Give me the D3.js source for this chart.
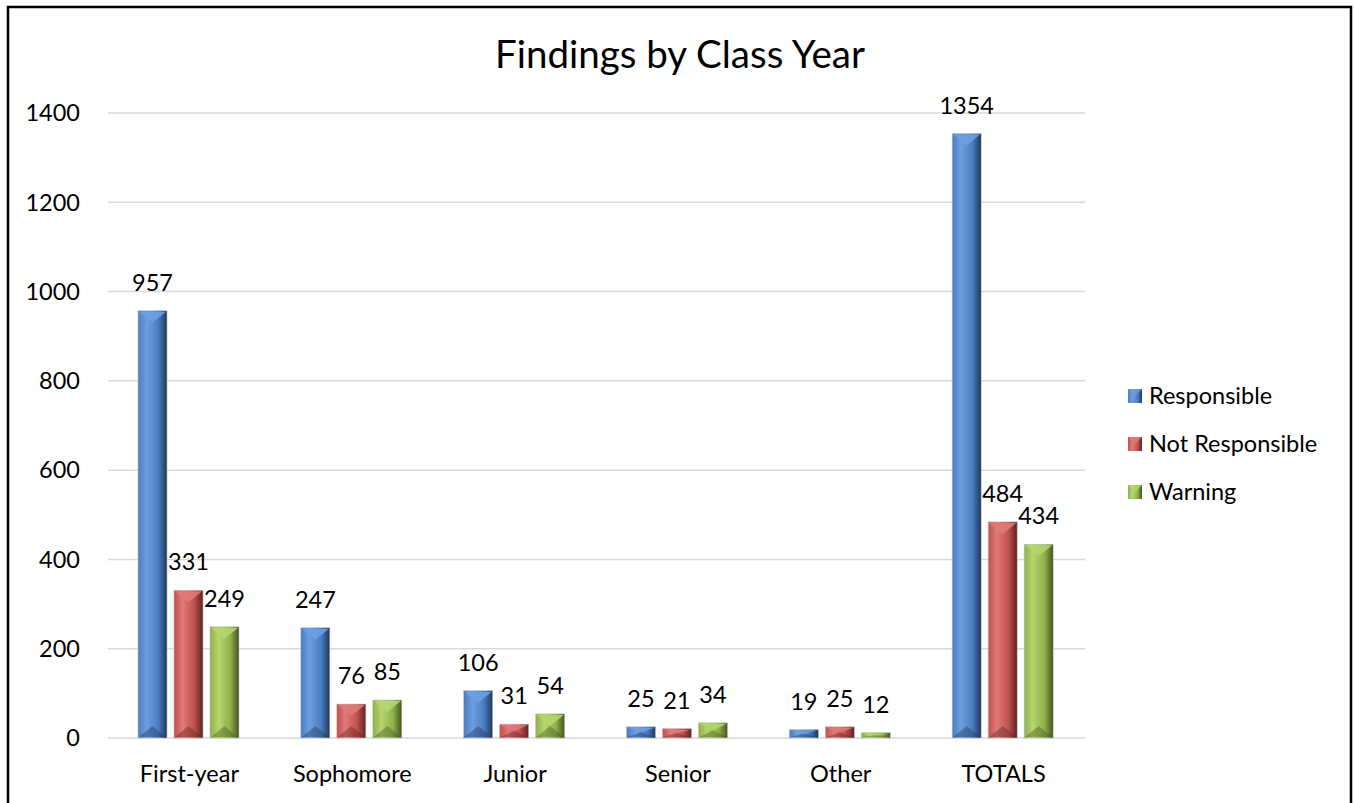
<!DOCTYPE html>
<html>
<head>
<meta charset="utf-8">
<script src="https://cdn.jsdelivr.net/npm/d3@7"></script>
<style>
  body { margin: 0; background: #fff; }
  svg text { font-family: Lato, "Open Sans", sans-serif; fill: #000; }
</style>
</head>
<body>
<svg id="chart"></svg>
<script>
const width = 1354;
const height = 803;

// Data
const categories = ["First-year", "Sophomore", "Junior", "Senior", "Other", "TOTALS"];
const seriesNames = ["Responsible", "Not Responsible", "Warning"];
const responsible = [957, 247, 106, 25, 19, 1354];
const notResponsible = [331, 76, 31, 21, 25, 484];
const warning = [249, 85, 54, 34, 12, 434];
const yTicks = [0, 200, 400, 600, 800, 1000, 1200, 1400];

const seriesValues = [responsible, notResponsible, warning];
const labelSize = 23.5;

// colours: [light, mid, dark]
const palette = [
    ["#6d9ee0", "#4a7dc0", "#1d375a"],
    ["#e07a78", "#c0504d", "#5e2220"],
    ["#b5d56e", "#8fb04a", "#43561d"]
];

const svg = d3.select("#chart")
    .attr("width", width)
    .attr("height", height);

// frame
svg.append("path")
    .attr("d", "M8,803 L8,7 L1351,7 L1351,803")
    .attr("fill", "none")
    .attr("stroke", "#000")
    .attr("stroke-width", 2.5);

const x = d3.scaleBand()
    .domain(categories)
    .range([108, 1085]);

const xInner = d3.scaleBand()
    .domain(seriesNames)
    .range([30, 131])
    .paddingInner(0.194);

const y = d3.scaleLinear()
    .domain([0, 1400])
    .range([738, 113]);

// gradients for the bevelled bars
const defs = svg.append("defs");
palette.forEach((c, i) => {
    const g = defs.append("linearGradient")
        .attr("id", "grad" + i)
        .attr("x1", "0%").attr("x2", "100%")
        .attr("y1", "0%").attr("y2", "0%");
    g.append("stop").attr("offset", "0%").attr("stop-color", c[1]);
    g.append("stop").attr("offset", "30%").attr("stop-color", c[0]);
    g.append("stop").attr("offset", "70%").attr("stop-color", c[1]);
    g.append("stop").attr("offset", "100%").attr("stop-color", c[2]);
});

// gridlines
svg.append("g")
    .selectAll("line")
    .data(yTicks)
    .join("line")
    .attr("x1", 108)
    .attr("x2", 1085)
    .attr("y1", d => y(d))
    .attr("y2", d => y(d))
    .attr("stroke", "#d9d9d9")
    .attr("stroke-width", 1.5);

// y axis labels
svg.append("g")
    .selectAll("text")
    .data(yTicks)
    .join("text")
    .attr("x", 80)
    .attr("y", d => y(d))
    .attr("dy", "0.35em")
    .attr("text-anchor", "end")
    .attr("font-size", labelSize)
    .text(d => d);

// x axis labels
svg.append("g")
    .selectAll("text")
    .data(categories)
    .join("text")
    .attr("x", d => x(d) + x.bandwidth() / 2)
    .attr("y", 774)
    .attr("dy", "0.35em")
    .attr("text-anchor", "middle")
    .attr("font-size", labelSize)
    .text(d => d);

// bars
const bars = [];
categories.forEach((cat, ci) => {
    seriesNames.forEach((s, si) => {
        bars.push({ cat, s, si, value: seriesValues[si][ci] });
    });
});

const barG = svg.append("g")
    .selectAll("g")
    .data(bars)
    .join("g")
    .attr("transform", d => `translate(${x(d.cat) + xInner(d.s)},0)`);

const bw = xInner.bandwidth();

barG.append("rect")
    .attr("x", 0)
    .attr("y", d => y(d.value))
    .attr("width", bw)
    .attr("height", d => y(0) - y(d.value))
    .attr("fill", d => `url(#grad${d.si})`)
    .attr("stroke", "#bfbfbf")
    .attr("stroke-width", 0.6);

// top bevel triangle
barG.append("path")
    .attr("d", d => {
        const t = y(d.value);
        const h = Math.min(bw / 2, (y(0) - t) / 2);
        const dp = Math.min(12, h);
        return `M1,${t + 1} L${bw - 1},${t + 1} L${bw / 2},${t + dp} Z`;
    })
    .attr("fill", d => palette[d.si][0])
    .attr("opacity", 0.9);

// bottom bevel triangle
barG.append("path")
    .attr("d", d => {
        const b = y(0);
        const h = Math.min(bw / 2, (b - y(d.value)) / 2);
        const dp = Math.min(12, h);
        return `M1,${b - 1} L${bw - 1},${b - 1} L${bw / 2},${b - dp} Z`;
    })
    .attr("fill", d => palette[d.si][2])
    .attr("opacity", 0.4);

// value labels
barG.append("text")
    .attr("x", bw / 2)
    .attr("y", d => y(d.value) - 28)
    .attr("dy", "0.35em")
    .attr("text-anchor", "middle")
    .attr("font-size", labelSize)
    .text(d => d.value);

// title
svg.append("text")
    .attr("x", 680)
    .attr("y", 55)
    .attr("dy", "0.35em")
    .attr("text-anchor", "middle")
    .attr("font-size", 38.5)
    .text("Findings by Class Year");

// legend
const legend = svg.append("g")
    .selectAll("g")
    .data(seriesNames)
    .join("g")
    .attr("transform", (d, i) => `translate(1128,${396 + i * 48})`);

legend.append("rect")
    .attr("x", 0)
    .attr("y", -7)
    .attr("width", 14)
    .attr("height", 14)
    .attr("fill", (d, i) => `url(#grad${i})`);

legend.append("path")
    .attr("d", "M0,-7 L14,-7 L7,0 Z")
    .attr("fill", (d, i) => palette[i][0])
    .attr("opacity", 0.8);

legend.append("text")
    .attr("x", 21)
    .attr("y", 0)
    .attr("dy", "0.35em")
    .attr("font-size", labelSize)
    .text(d => d);
</script>
</body>
</html>
